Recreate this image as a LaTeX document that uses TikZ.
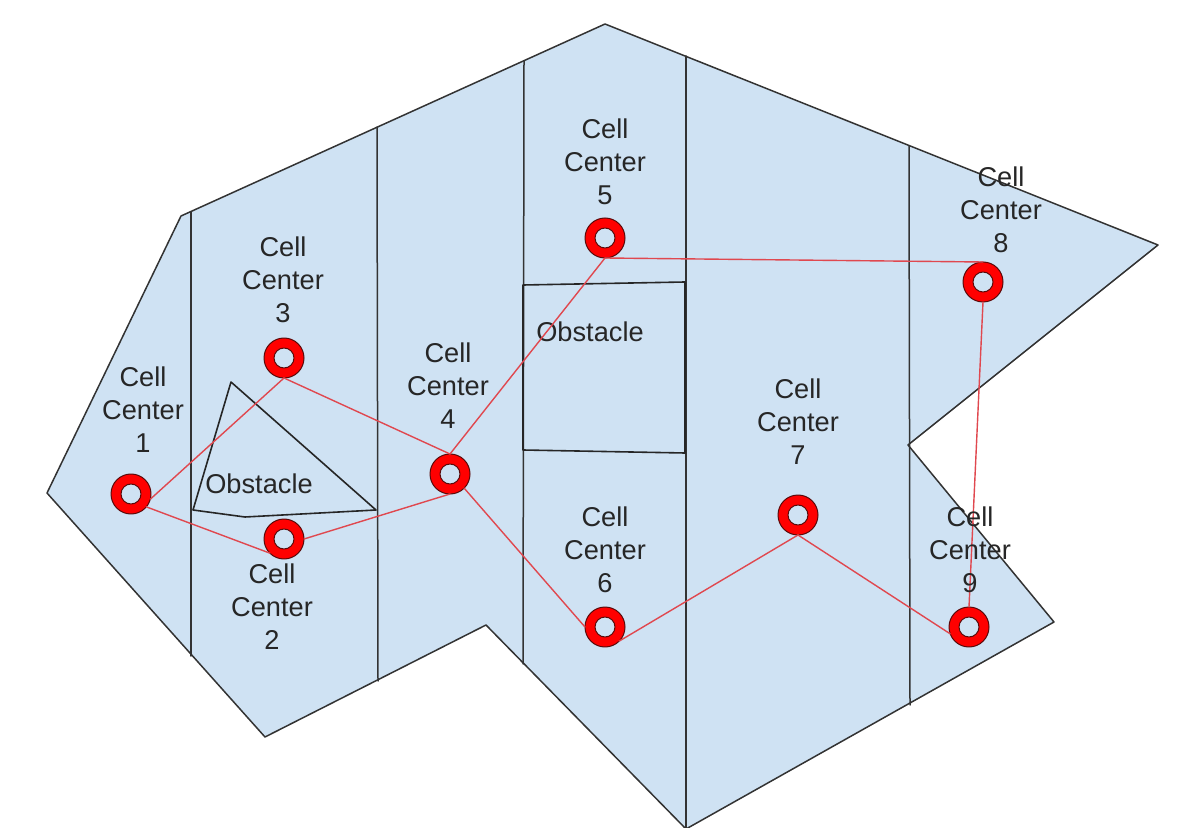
\documentclass[tikz,border=0pt]{standalone}
\usepackage{fontspec}
\setmainfont{Liberation Sans}
\usepackage{xcolor}
\usepackage{tikz}

\definecolor{cellfill}{HTML}{CFE2F3}
\definecolor{edgegray}{HTML}{333333}
\definecolor{pathred}{HTML}{E0484F}
\definecolor{ringred}{HTML}{FF0000}
\definecolor{ringedge}{HTML}{5A0A0A}

\begin{document}
\begin{tikzpicture}[
    x=0.5pt, y=-0.5pt,
    line join=round, line cap=round,
    region/.style={fill=cellfill, draw=edgegray, line width=0.75pt},
    divider/.style={draw=edgegray, line width=0.75pt},
    obst/.style={draw=black!85, line width=0.8pt},
    route/.style={draw=pathred, line width=0.7pt},
    ring/.style={circle, minimum size=20pt, inner sep=0pt, outer sep=0pt,
      fill=ringred, draw=ringedge, line width=0.5pt,
      path picture={\draw[fill=cellfill, draw=ringedge, line width=0.5pt]
        (path picture bounding box.center) circle[radius=5pt];}},
    lbl/.style={align=center, font=\fontsize{13.6}{16.5}\selectfont, text=black!85},
  ]
  \useasboundingbox (0,0) rectangle (1183,828);

  % ---------- free space (outer polygon) ----------
  \draw[region] (47,493) -- (181,216) -- (605,24) -- (1158,245) -- (908,445)
    -- (1054,622) -- (686,829) -- (486,625) -- (265,737) -- cycle;

  % ---------- cell boundaries ----------
  \draw[divider] (191,212) -- (191,656);
  \draw[divider] (377,127) -- (378,681);
  \draw[divider] (524,61) -- (523,664);
  \draw[divider] (686,56) -- (686,829);
  \draw[divider] (909,146) -- (910,705);

  % ---------- obstacles ----------
  \draw[obst] (231,382) -- (376,510) -- (245,517) -- (193,510) -- cycle;
  \draw[obst] (523,285) -- (685,282) -- (685,453) -- (523,450) -- cycle;
  \node[lbl] (obsA) at (259,484) {Obstacle};
  \node[lbl] (obsB) at (590,332) {Obstacle};

  % ---------- cell centers ----------
  \node[ring] (c1) at (131,494) {};
  \node[ring] (c2) at (284,539) {};
  \node[ring] (c3) at (284,358) {};
  \node[ring] (c4) at (450,474) {};
  \node[ring] (c5) at (605,238) {};
  \node[ring] (c6) at (605,627) {};
  \node[ring] (c7) at (798,515) {};
  \node[ring] (c8) at (983,282) {};
  \node[ring] (c9) at (969,627) {};

  % ---------- roadmap ----------
  \draw[route] (c1.-15) -- (c3.south);
  \draw[route] (c1.-40) -- (c2.south west);
  \draw[route] (c2.east) -- (c4.south);
  \draw[route] (c3.south) -- (c4.north);
  \draw[route] (c4.north) -- (c5.south);
  \draw[route] (c4.south east) -- (c6.west);
  \draw[route] (c5.south) -- (c8.north);
  \draw[route] (c8.south) -- (c9.north);
  \draw[route] (c6.south east) -- (c7.south);
  \draw[route] (c7.south) -- (c9.-160);

  % ---------- labels ----------
  \node[lbl] (l1) at (143,410) {Cell\\Center\\1};
  \node[lbl] (l2) at (272,607) {Cell\\Center\\2};
  \node[lbl] (l3) at (283,280) {Cell\\Center\\3};
  \node[lbl] (l4) at (448,386) {Cell\\Center\\4};
  \node[lbl] (l5) at (605,162) {Cell\\Center\\5};
  \node[lbl] (l6) at (605,550) {Cell\\Center\\6};
  \node[lbl] (l7) at (798,422) {Cell\\Center\\7};
  \node[lbl] (l8) at (1001,210) {Cell\\Center\\8};
  \node[lbl] (l9) at (970,550) {Cell\\Center\\9};

\end{tikzpicture}
\end{document}
